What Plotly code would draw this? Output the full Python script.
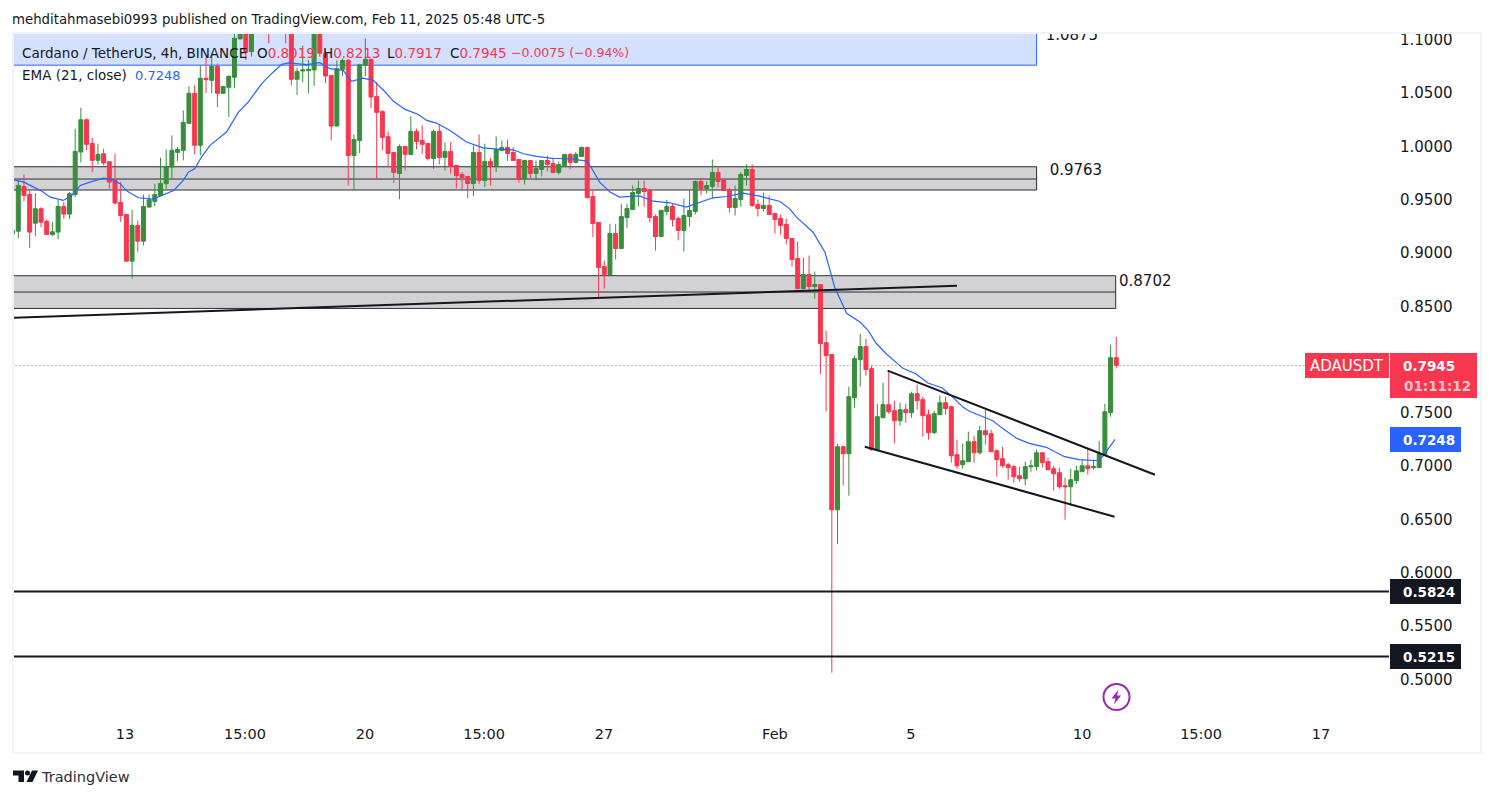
import plotly.graph_objects as go

W, H = 1494, 798

opens = [
 .9180,.9205,.9624,.9549,.9280,.9415,.9296,.9174,.9196,.9437,
 .9365,.9549,.9947,1.0250,1.0028,.9869,.9931,.9856,.9681,.9474,
 .9362,.8923,.9258,.9111,.9431,.9484,.9540,.9650,.9806,.9944,
 .9963,1.0216,1.0498,1.0010,1.0639,1.0620,1.0751,1.0498,1.0554,1.0648,
 1.1008,1.115,1.0889,1.125,1.14,1.135,1.12,1.145,1.16,1.14,
 1.0629,1.0707,1.0710,1.0717,1.112,1.0870,1.0666,1.0191,1.0723,1.0807,
 .9915,1.0056,1.0760,1.0817,1.0469,1.0328,1.0091,.9943,.9746,.9999,
 .9925,1.0141,1.0056,1.0028,.9887,1.0141,.9897,.9953,.9821,.9737,
 .9718,.9652,.9943,.9681,.9859,.9821,.9962,.9990,.9943,.9878,
 .9696,.9868,.9746,.9784,.9868,.9840,.9756,.9821,.9925,.9850,
 .9906,.9990,.9530,.9286,.8873,.8798,.9183,.9042,.9333,.9408,
 .9558,.9605,.9587,.9342,.9155,.9389,.9436,.9324,.9211,.9342,
 .9389,.9671,.9605,.9624,.9756,.9680,.9593,.9427,.9502,.9727,
 .9784,.9455,.9418,.9446,.9371,.9324,.9267,.9136,.8948,.8666,
 .8798,.8685,.8704,.8159,.8047,.6591,.7183,.7117,.7643,.7999,
 .8122,.7915,.7155,.7455,.7577,.7521,.7427,.7530,.7502,.7680,
 .7624,.7483,.7314,.7483,.7596,.7558,.7108,.7014,.7042,.7230,
 .7126,.7333,.7305,.7145,.7070,.7014,.6995,.6910,.6882,.6995,
 .6995,.7126,.7042,.6976,.6939,.6817,.6807,.6864,.6948,.7004,
 .6986,.6986,.7108,.7502,.8019,
]
closes = [
 .9211,.9634,.9540,.9196,.9415,.9289,.9174,.9199,.9437,.9365,
 .9556,.9953,1.0250,1.0019,.9869,.9925,.9844,.9665,.9468,.9352,
 .8923,.9258,.9111,.9437,.9499,.9549,.9653,.9812,.9963,.9972,
 1.0225,1.0498,1.0010,1.0639,1.0626,1.0751,1.0498,1.0563,1.0657,1.1014,
 1.112,1.0883,1.125,1.14,1.13,1.12,1.145,1.16,1.13,1.0629,
 1.0704,1.0717,1.0723,1.112,1.0873,1.0660,1.0191,1.0729,1.0807,.9915,
 1.0065,1.0767,1.0817,1.0463,1.0319,1.0084,.9934,.9756,.9999,.9925,
 1.0141,1.0047,1.0019,.9887,1.0141,.9897,.9953,.9812,.9727,.9709,
 .9652,.9943,.9681,.9859,.9821,.9972,.9990,.9934,.9868,.9696,
 .9868,.9746,.9793,.9868,.9831,.9756,.9831,.9925,.9850,.9925,
 .9990,.9518,.9277,.8863,.8798,.9183,.9042,.9342,.9418,.9568,
 .9605,.9577,.9333,.9155,.9399,.9436,.9314,.9211,.9352,.9399,
 .9671,.9605,.9633,.9756,.9671,.9587,.9427,.9511,.9737,.9784,
 .9446,.9418,.9446,.9361,.9314,.9258,.9136,.8939,.8666,.8798,
 .8685,.8704,.8150,.8037,.6591,.7183,.7117,.7652,.8009,.8122,
 .7906,.7155,.7465,.7577,.7511,.7427,.7530,.7502,.7680,.7615,
 .7474,.7314,.7493,.7596,.7540,.7098,.7004,.7051,.7230,.7126,
 .7333,.7295,.7136,.7061,.7004,.6986,.6901,.6882,.6995,.7004,
 .7126,.7033,.6967,.6929,.6807,.6807,.6873,.6957,.7004,.6976,
 .6995,.7117,.7511,.8018,.7945,
]
highs = [
 .9211,.9681,.9737,.9587,.9562,.9430,.9315,.9290,.9499,.9478,
 .9571,1.0166,1.0363,1.0263,1.0082,1.0025,.9978,.9856,.9931,.9665,
 .9362,.9405,.9305,.9549,.9549,.9650,.9894,.9972,1.0103,.9994,
 1.0338,1.0563,1.0573,1.0761,1.0839,1.0855,1.0776,1.0563,1.0667,1.1058,
 1.12,1.12,1.13,1.15,1.155,1.14,1.16,1.17,1.165,1.15,
 1.0739,1.0945,1.0811,1.12,1.12,1.0900,1.0666,1.0807,1.0823,1.0820,
 1.0112,1.0776,1.1011,1.0817,1.0604,1.0338,1.0141,.9943,1.0019,.9999,
 1.0282,1.0166,1.0197,1.0028,1.0156,1.0203,1.0037,1.0040,.9821,.9759,
 .9718,1.0009,1.0112,1.0025,.9893,1.0094,1.0056,1.0065,.9993,.9878,
 .9875,.9868,.9868,.9868,.9915,.9884,.9859,.9925,.9937,.9947,
 .9999,.9990,.9587,.9286,.8929,.9274,.9274,.9461,.9461,.9633,
 .9680,.9680,.9602,.9361,.9408,.9499,.9461,.9342,.9511,.9596,
 .9680,.9705,.9671,.9878,.9806,.9696,.9612,.9633,.9756,.9831,
 .9831,.9502,.9568,.9540,.9371,.9361,.9324,.9136,.9108,.8957,
 .8976,.8826,.8704,.8272,.8047,.7208,.7192,.7746,.8037,.8241,
 .8194,.7943,.7583,.7784,.7896,.7615,.7596,.7587,.7699,.7765,
 .7652,.7530,.7521,.7662,.7652,.7568,.7249,.7211,.7324,.7286,
 .7380,.7530,.7342,.7155,.7183,.7033,.7014,.6995,.7042,.7061,
 .7155,.7126,.7080,.7004,.6986,.6892,.6976,.7004,.7061,.7173,
 .7061,.7239,.7587,.8141,.8213,
]
lows = [
 .9039,.9139,.9484,.9045,.9158,.9243,.9174,.9158,.9130,.9321,
 .9318,.9524,.9850,.9963,.9759,.9831,.9822,.9603,.9456,.9290,
 .8923,.8758,.9008,.9071,.9424,.9440,.9540,.9603,.9697,.9862,
 .9869,1.0216,.9925,.9916,1.0501,1.0501,1.0369,1.0495,1.0276,1.0545,
 1.1008,1.0811,1.0842,1.115,1.12,1.0967,1.11,1.135,1.0967,1.0573,
 1.0482,1.0601,1.0498,1.0567,1.0842,1.0594,1.0056,1.0191,1.0657,.9634,
 .9587,.9937,1.0657,1.0360,.9696,.9962,.9806,.9655,.9505,.9774,
 .9925,.9972,.9931,.9868,.9790,.9831,.9774,.9743,.9605,.9593,
 .9515,.9533,.9649,.9618,.9634,.9759,.9962,.9862,.9868,.9662,
 .9643,.9696,.9681,.9718,.9765,.9746,.9737,.9812,.9784,.9840,
 .9900,.9518,.9148,.8569,.8666,.8798,.8939,.9042,.9236,.9408,
 .9436,.9436,.9286,.9023,.9155,.9352,.9248,.9117,.9014,.9248,
 .9361,.9540,.9558,.9508,.9615,.9587,.9380,.9352,.9436,.9633,
 .9430,.9342,.9389,.9361,.9183,.9173,.9080,.8873,.8657,.8657,
 .8638,.8572,.7865,.7515,.5063,.6269,.6817,.6723,.7549,.7746,
 .7849,.7145,.7152,.7455,.7493,.7214,.7380,.7408,.7455,.7530,
 .7277,.7249,.7305,.7483,.7483,.7033,.6976,.6976,.7042,.7033,
 .7108,.7202,.7136,.6901,.6986,.6873,.6845,.6854,.6817,.6948,
 .6957,.6986,.6967,.6770,.6788,.6497,.6629,.6835,.6948,.6920,
 .6967,.6986,.7098,.7464,.7917,
]
candle_index = list(range(len(opens)))

ema_index = [0.1,2,3.7,5.1,6.6,8.9,10.4,11.9,13.6,16,17.4,18.9,20.1,22.1,24.7,26.5,28.3,30,30.9,32,33.2,34.7,37.6,39.7,41.4,43.8,45.5,47.3,48.5,
 51.7,54,55.8,58.1,59.6,61.6,63.4,65.5,66.9,69,71.3,72.8,74.5,76.9,79.8,82.7,85.7,88,89.8,92.1,95,98,100.9,
 101.5,103.2,105,106.7,110.2,112.6,115.5,118.4,121.1,123.1,125.5,128.4,131.3,134.9,136.6,137.8,140.7,142.8,144.5,146.6,149,
 150.4,151.8,153.6,156.5,158.8,160.9,163.5,165.3,167.1,168.2,170.5,172.3,174,176.4,178.7,181.7,184.9,187.5,190.8,191.6,193.8]
ema_value = [.9687,.9665,.9618,.9581,.9524,.9493,.9540,.9634,.9665,.9703,.9690,.9650,.9581,.9518,.9506,.9546,.9587,.9681,.9759,.9790,.9900,1.0010,1.0135,1.0322,1.0416,1.0589,1.0682,1.0770,1.0783,
 1.0767,1.0785,1.0729,1.0713,1.0610,1.0641,1.0620,1.0510,1.0425,1.0347,1.0300,1.0244,1.0219,1.0150,1.0041,.9987,.9972,.9968,.9931,.9906,.9887,.9884,.9862,
 .9821,.9665,.9571,.9524,.9536,.9486,.9471,.9430,.9477,.9518,.9530,.9561,.9533,.9483,.9414,.9336,.9195,.9007,.8679,.8435,.8350,
 .8272,.8153,.8053,.7918,.7865,.7781,.7731,.7646,.7552,.7515,.7465,.7427,.7355,.7264,.7214,.7177,.7089,.7061,.7051,.7089,.7252]

price_ticks = [1.1,1.05,1.0,.95,.9,.85,.8,.75,.7,.65,.6,.55,.5]
price_labels = ["1.1000","1.0500","1.0000","0.9500","0.9000","0.8500","0.8000","0.7500","0.7000","0.6500","0.6000","0.5500","0.5000"]
time_ticks = [19.76,40.85,61.95,82.87,103.95,134,157.9,188,208.9,230]
time_labels = ["13","15:00","20","15:00","27","Feb","5","10","15:00","17"]

channel_upper_x, channel_upper_y = [153.8,200.8], [.7896,.6920]
channel_lower_x, channel_lower_y = [149.8,193.7], [.7183,.6526]
rising_line_x, rising_line_y = [0,166], [.8393,.8693]

support_levels = [.5824,.5215]
zone_a = dict(top=.9809, mid=.9694, bottom=.9591, end=180.0)
zone_b = dict(top=.8787, mid=.8634, bottom=.8480, end=193.9)
zone_blue = dict(top=1.2, bottom=1.0762, end=180.0)
level_labels = ["1.0875","0.9763","0.8702"]
level_label_x = [186.2,186.9,199.1]
level_label_y = [1.1038,.9763,.8721]

last_close = .7945
ema_last = .7248

INK = "#131722"
GREEN = "#388E3C"
RED = "#F7374F"
BLUE = "#2962FF"
FONT = "DejaVu Sans"

def px(x): return x / W
def py(y): return 1 - y / H

fig = go.Figure()
fig.add_trace(go.Candlestick(
    x=candle_index, open=opens, high=highs, low=lows, close=closes,
    increasing=dict(line=dict(color=GREEN, width=1), fillcolor=GREEN),
    decreasing=dict(line=dict(color=RED, width=1), fillcolor=RED),
    hoverinfo="skip",
))
fig.add_trace(go.Scatter(x=ema_index, y=ema_value, mode="lines", line=dict(color=BLUE, width=1.2), hoverinfo="skip"))
for lx, ly in [(rising_line_x, rising_line_y), (channel_upper_x, channel_upper_y), (channel_lower_x, channel_lower_y)]:
    fig.add_trace(go.Scatter(x=lx, y=ly, mode="lines", line=dict(color=INK, width=2), hoverinfo="skip"))
for lv in support_levels:
    fig.add_trace(go.Scatter(x=[-3,245], y=[lv,lv], mode="lines", line=dict(color=INK, width=2), hoverinfo="skip"))
fig.add_trace(go.Scatter(x=level_label_x, y=level_label_y, mode="text", text=level_labels,
                         textfont=dict(family=FONT, size=15, color=INK), textposition="middle center", hoverinfo="skip"))

shapes = []
def data_rect(x1, top, bottom, fill, edge, width=1):
    shapes.append(dict(type="rect", xref="x", yref="y", x0=-3, x1=x1, y0=bottom, y1=top,
                       fillcolor=fill, line=dict(color=edge, width=width), layer="below"))

data_rect(zone_blue["end"], zone_blue["top"], zone_blue["bottom"], "#D4E0FF", BLUE)
for z in (zone_a, zone_b):
    data_rect(z["end"], z["top"], z["bottom"], "#D2D2D5", "#2A2E39")
    shapes.append(dict(type="line", xref="x", yref="y", x0=-3, x1=z["end"], y0=z["mid"], y1=z["mid"],
                       line=dict(color="#2A2E39", width=1), layer="below"))
shapes.append(dict(type="line", xref="x", yref="y", x0=-3, x1=227.1, y0=last_close, y1=last_close,
                   line=dict(color=RED, width=1, dash="1px,3px"), layer="below"))

def box(x0, y0, x1, y1, fill):
    shapes.append(dict(type="rect", xref="paper", yref="paper", x0=px(x0), x1=px(x1), y0=py(y1), y1=py(y0),
                       fillcolor=fill, line=dict(width=0), layer="above"))

# chart frame
shapes.append(dict(type="rect", xref="paper", yref="paper", x0=px(13), x1=px(1481), y0=py(753), y1=py(33),
                   line=dict(color="#F0F3FA", width=2), layer="above"))
box(1305, 353, 1389, 378, RED)
box(1390, 353, 1477, 398, RED)
box(1390, 427, 1461, 452, BLUE)
box(1390, 579, 1461, 604, INK)
box(1390, 644, 1461, 669, INK)
def poly(points):
    return "M" + " L".join(f"{px(a):.5f},{py(b):.5f}" for a, b in points) + " Z"
# signal badge
shapes.append(dict(type="circle", xref="paper", yref="paper", x0=px(1103.5), x1=px(1129.5), y0=py(710), y1=py(684),
                   line=dict(color="#9C27B0", width=2), fillcolor="white", layer="above"))
shapes.append(dict(type="path", xref="paper", yref="paper",
                   path=poly([(1118.5,689.5),(1111.5,698.5),(1115.5,698.5),(1114,704.5),(1121,695.5),(1117,695.5)]),
                   fillcolor="#9C27B0", line=dict(width=0), layer="above"))
# TradingView mark
shapes.append(dict(type="path", xref="paper", yref="paper", path=poly([(13,770.5),(24,770.5),(24,782),(18.5,782),(18.5,775.5),(13,775.5)]),
                   fillcolor=INK, line=dict(width=0), layer="above"))
shapes.append(dict(type="circle", xref="paper", yref="paper", x0=px(25), x1=px(30), y0=py(775.5), y1=py(770.5),
                   fillcolor=INK, line=dict(width=0), layer="above"))
shapes.append(dict(type="path", xref="paper", yref="paper", path=poly([(32,770.5),(38,770.5),(32.5,782),(26.5,782)]),
                   fillcolor=INK, line=dict(width=0), layer="above"))

def label(x, y, text, size=14, color=INK, anchor="left", weight=None):
    fig.add_annotation(xref="paper", yref="paper", x=px(x), y=py(y), text=text, showarrow=False,
                       xanchor=anchor, yanchor="middle", borderpad=0, borderwidth=0,
                       font=dict(family=FONT, size=size, color=color, weight=weight))

label(12, 19, "mehditahmasebi0993 published on TradingView.com, Feb 11, 2025 05:48 UTC-5", 13.3)
r = lambda s: f'<span style="color:{RED}">{s}</span>'
label(22, 53, "Cardano / TetherUS, 4h, BINANCE", 13.5)
label(257, 53, f"O{r('0.8019')}", 13.5)
label(323, 53, f"H{r('0.8213')}", 13.5)
label(387, 53, f"L{r('0.7917')}", 13.5)
label(450, 53, f"C{r('0.7945')}", 13.5)
label(511, 53, "−0.0075 (−0.94%)", 12.5, RED)
label(22, 75, "EMA (21, close)", 13.5)
label(135, 75, "0.7248", 13, BLUE)
label(1347, 366, "ADAUSDT", 15, "white", "center")
label(1429, 366, "0.7945", 13.5, "white", "center", "bold")
label(1437, 386, "01:11:12", 13.5, "#FFC4CB", "center", "bold")
label(1429, 440, "0.7248", 13.5, "white", "center", "bold")
label(1429, 592, "0.5824", 13.5, "white", "center", "bold")
label(1429, 657, "0.5215", 13.5, "white", "center", "bold")
label(41, 777, "TradingView", 14.5, "#2A2E39")

fig.update_layout(
    width=W, height=H, margin=dict(l=0, r=0, t=0, b=0, autoexpand=False), paper_bgcolor="white", plot_bgcolor="white",
    showlegend=False, boxgap=0.3, boxgroupgap=0, shapes=shapes, hovermode=False,
    font=dict(family=FONT, color=INK),
    xaxis=dict(domain=[px(14), px(1389)], range=[0.246, 241.94], rangeslider=dict(visible=False),
               tickmode="array", tickvals=time_ticks, ticktext=time_labels, tickfont=dict(family=FONT, size=14.5, color=INK),
               showgrid=False, zeroline=False, showline=False, ticks="", ticklabelstandoff=8, fixedrange=True),
    yaxis=dict(domain=[py(715), py(34)], range=[.5 + (679.4 - 715) / 1066, .5 + (679.4 - 34) / 1066], side="right",
               tickmode="array", tickvals=price_ticks, ticktext=price_labels, tickfont=dict(family=FONT, size=15, color=INK),
               showgrid=False, zeroline=False, showline=False, ticks="", ticklabelstandoff=10, fixedrange=True),
)
fig.write_html("out.html", config=dict(displayModeBar=False),
               post_script="document.body.style.margin='0';document.body.style.overflow='hidden';")
